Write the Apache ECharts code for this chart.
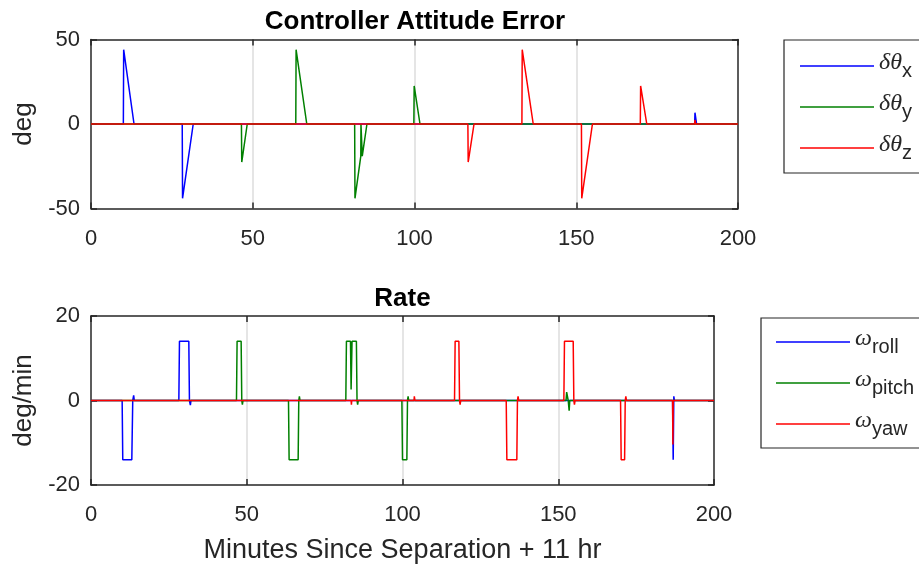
<!DOCTYPE html>
<html>
<head>
<meta charset="utf-8">
<script src="https://cdn.jsdelivr.net/npm/echarts@6/dist/echarts.min.js"></script>
<style>
  html, body { margin: 0; padding: 0; background: #fff; }
  #chart { width: 919px; height: 565px; }
</style>
</head>
<body>
<div id="chart"></div>
<script>
// attitude error, deg  [minutes, value]
const dThetaX = [[0, 0], [10.0, 0], [10.1, 44], [13.3, 0], [28.2, 0], [28.3, -44], [31.6, 0],
  [186.6, 0], [186.7, 6.7], [187.2, 0], [200, 0]]
const dThetaY = [[0, 0], [46.5, 0], [46.6, -22.5], [48.3, 0], [63.3, 0], [63.4, 44], [66.7, 0],
  [81.5, 0], [81.6, -44], [83.4, -19], [83.45, 0], [83.8, 0], [83.85, -19], [85.3, 0],
  [99.8, 0], [99.9, 22.5], [101.7, 0], [200, 0]]
const dThetaZ = [[0, 0], [116.5, 0], [116.6, -22.5], [118.4, 0], [133.2, 0], [133.3, 44], [136.7, 0],
  [151.6, 0], [151.7, -44], [155.0, 0], [169.8, 0], [169.9, 22.5], [171.8, 0],
  [186.6, 0], [186.7, 2.5], [186.9, 0], [200, 0]]

// rate, deg/min
const omegaRoll = [[0, 0], [10.0, 0], [10.2, -14], [13.1, -14], [13.4, 0], [13.7, 1.2], [13.9, 0],
  [28.2, 0], [28.4, 14], [31.4, 14], [31.6, 0], [31.9, -1.1], [32.1, 0],
  [186.7, 0], [186.9, -14], [187.1, 1], [187.3, 0], [200, 0]]
const omegaPitch = [[0, 0], [46.7, 0], [46.9, 14], [48.2, 14], [48.4, 0], [48.6, -1], [48.8, 0],
  [63.4, 0], [63.6, -14], [66.5, -14], [66.7, 0], [66.9, 1], [67.1, 0],
  [81.8, 0], [82.0, 14], [83.3, 14], [83.5, 2.6], [83.8, 14], [85.2, 14], [85.4, 0], [85.6, -1], [85.8, 0],
  [99.8, 0], [100.0, -14], [101.4, -14], [101.6, 0], [101.8, 1], [102.0, 0],
  [152.5, 0], [152.7, 2], [153.2, 0], [153.5, -2.4], [153.7, 0], [200, 0]]
const omegaYaw = [[0, 0], [83.5, 0], [83.6, -1], [83.7, 0], [103.7, 0], [103.8, 1], [104.0, 0],
  [116.7, 0], [116.9, 14], [118.1, 14], [118.3, 0], [118.5, -1], [118.7, 0],
  [133.3, 0], [133.5, -14], [136.7, -14], [136.9, 0], [137.1, 1], [137.3, 0],
  [151.8, 0], [152.0, 14], [154.8, 14], [155.0, 0], [155.2, -1], [155.4, 0],
  [170.0, 0], [170.2, -14], [171.3, -14], [171.5, 0], [171.7, 1], [171.9, 0],
  [186.7, 0], [186.8, -10.4], [186.9, 0], [200, 0]]

const xTicks = { min: 0, max: 200, interval: 50 }
const errTicks = { min: -50, max: 50, interval: 50 }
const rateTicks = { min: -20, max: 20, interval: 20 }

const FONT = 'Liberation Sans'
const INK = '#262626'
const BLUE = '#0000ff', GREEN = '#008000', RED = '#ff0000'

const errSub = { 'δθx': 'x', 'δθy': 'y', 'δθz': 'z' }
const rateSub = { 'ωroll': 'roll', 'ωpitch': 'pitch', 'ωyaw': 'yaw' }

function xAx(grid, pos, grd, showLabel, name) {
  return {
    type: 'value', gridIndex: grid, position: pos, ...xTicks,
    name: name || '', nameLocation: 'middle', nameGap: 52,
    nameTextStyle: { fontFamily: FONT, fontSize: 27, color: INK },
    axisLine: { show: true, onZero: false, lineStyle: { color: INK, width: 1.5 } },
    axisTick: { show: true, inside: true, length: 6, lineStyle: { color: INK, width: 1.5 } },
    axisLabel: { show: showLabel, margin: 19, fontFamily: FONT, fontSize: 22, color: INK },
    splitLine: { show: grd, showMinLine: false, showMaxLine: false, lineStyle: { color: '#dcdcdc', width: 1.5 } }
  }
}

function yAx(grid, pos, ticks, showLabel, name) {
  return {
    type: 'value', gridIndex: grid, position: pos, ...ticks,
    name: name || '', nameLocation: 'middle', nameGap: 53,
    nameTextStyle: { fontFamily: FONT, fontSize: 26, color: INK },
    axisLine: { show: true, onZero: false, lineStyle: { color: INK, width: 1.5 } },
    axisTick: { show: true, inside: true, length: 6, lineStyle: { color: INK, width: 1.5 } },
    axisLabel: { show: showLabel, margin: 11, fontFamily: FONT, fontSize: 22, color: INK },
    splitLine: { show: false }
  }
}

function line(name, data, color, xi, yi) {
  return {
    name: name, type: 'line', data: data, xAxisIndex: xi, yAxisIndex: yi,
    symbol: 'none', showSymbol: false, animation: false,
    lineStyle: { color: color, width: 1.5 }, itemStyle: { color: color }
  }
}

function legend(names, subs, left, top, greek, pad) {
  return {
    data: names, orient: 'vertical', left: left, top: top,
    padding: pad, itemGap: 11, itemWidth: 74, itemHeight: 1.5, itemTextGap: 8,
    icon: 'rect',
    borderColor: INK, borderWidth: 1.2, backgroundColor: '#fff',
    selectedMode: false,
    formatter: n => '{g|' + greek + '}{s|' + subs[n] + '}',
    textStyle: {
      rich: {
        g: { fontFamily: 'Liberation Serif', fontStyle: 'italic', fontSize: 24, color: INK, lineHeight: 30, verticalAlign: 'top' },
        s: { fontFamily: FONT, fontSize: 20, color: INK, lineHeight: 30, verticalAlign: 'bottom' }
      }
    }
  }
}

const chart = echarts.init(document.getElementById('chart'))
chart.setOption({
  animation: false,
  title: [
    { text: 'Controller Attitude Error', left: 410, textAlign: 'center', top: 4,
      textStyle: { fontFamily: FONT, fontSize: 26, fontWeight: 'bold', color: '#000' } },
    { text: 'Rate', left: 397.5, textAlign: 'center', top: 281,
      textStyle: { fontFamily: FONT, fontSize: 26, fontWeight: 'bold', color: '#000' } }
  ],
  legend: [
    legend(['δθx', 'δθy', 'δθz'], errSub, 784, 40, 'δθ', [11, 12, 10, 16]),
    legend(['ωroll', 'ωpitch', 'ωyaw'], rateSub, 761, 318, 'ω', [9, 12, 9, 15])
  ],
  grid: [
    { left: 91, top: 39.5, width: 647, height: 169 },
    { left: 91, top: 316, width: 623, height: 169 }
  ],
  xAxis: [
    xAx(0, 'bottom', true, true),
    xAx(0, 'top', false, false),
    xAx(1, 'bottom', true, true, 'Minutes Since Separation + 11 hr'),
    xAx(1, 'top', false, false)
  ],
  yAxis: [
    yAx(0, 'left', errTicks, true, 'deg'),
    yAx(0, 'right', errTicks, false),
    yAx(1, 'left', rateTicks, true, 'deg/min'),
    yAx(1, 'right', rateTicks, false)
  ],
  series: [
    line('δθx', dThetaX, BLUE, 0, 0),
    line('δθy', dThetaY, GREEN, 0, 0),
    line('δθz', dThetaZ, RED, 0, 0),
    line('ωroll', omegaRoll, BLUE, 2, 2),
    line('ωpitch', omegaPitch, GREEN, 2, 2),
    line('ωyaw', omegaYaw, RED, 2, 2)
  ]
})
</script>
</body>
</html>
